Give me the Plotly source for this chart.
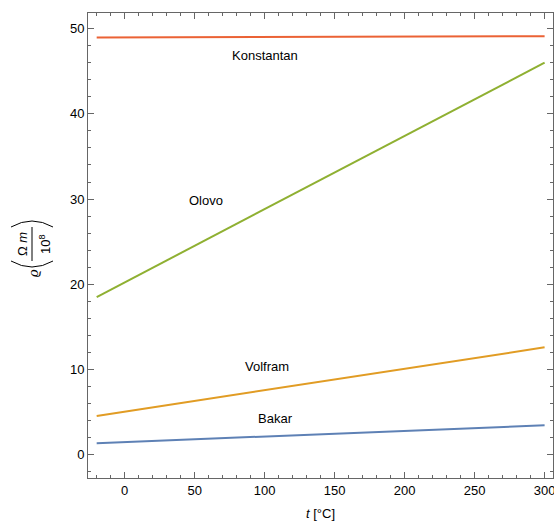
import plotly.graph_objects as go

# Data (resistivity in 1e-8 Ohm m vs temperature in °C)
t_vals = [-20, 300]
konstantan = [48.95, 49.1]
olovo = [18.5, 46.0]
volfram = [4.55, 12.6]
bakar = [1.35, 3.46]

series_names = ["Konstantan", "Olovo", "Volfram", "Bakar"]
series_vals = [konstantan, olovo, volfram, bakar]
series_colors = ["#EB6235", "#8FB032", "#E19C24", "#5E81B5"]

label_x = [100, 58, 102, 108]
label_y = [46.9, 29.8, 10.3, 4.2]

x_ticks = [0, 50, 100, 150, 200, 250, 300]
y_ticks = [0, 10, 20, 30, 40, 50]

W, H = 554, 523
ML, MR, MT, MB = 88, 1, 13, 45
PW = W - ML - MR
PH = H - MT - MB


def px(x):
    return (x - ML) / PW


def py(y):
    return (H - MB - y) / PH


fig = go.Figure()
for name, vals, col in zip(series_names, series_vals, series_colors):
    fig.add_trace(go.Scatter(x=t_vals, y=vals, mode="lines", name=name,
                             line=dict(color=col, width=2), showlegend=False))

font = dict(family="Liberation Sans, Arial, sans-serif", size=13, color="black")

for name, lx, ly in zip(series_names, label_x, label_y):
    fig.add_annotation(x=lx, y=ly, xref="x", yref="y", text=name, showarrow=False,
                       xanchor="center", yanchor="middle", font=font)

frame = "#666666"
axis_common = dict(showline=True, linecolor=frame, linewidth=1, mirror="ticks",
                   ticks="inside", tickcolor=frame, ticklen=6, tickwidth=1,
                   showgrid=False, zeroline=False, tickfont=font, automargin=False,
                   ticklabeloverflow="allow")

fig.update_xaxes(range=[-26.2, 306], tickvals=x_ticks,
                 minor=dict(dtick=10, ticks="inside", ticklen=3, tickcolor=frame, showgrid=False),
                 **axis_common)
fig.update_yaxes(range=[-2.73, 51.83], tickvals=y_ticks,
                 minor=dict(dtick=2, ticks="inside", ticklen=3, tickcolor=frame, showgrid=False),
                 **axis_common)

c = dict(xref="paper", yref="paper", showarrow=False, xanchor="center", yanchor="middle")

# x axis title
fig.add_annotation(x=px(320.5), y=py(513), text="<i>t</i> [°C]", font=font, **c)

# y axis title: varrho (Ω m / 10^8), rotated
fig.add_annotation(x=px(33), y=py(273), text="<i>ϱ</i>", textangle=-90,
                   font=dict(family="Liberation Serif, serif", size=15, color="black"), **c)
fig.add_annotation(x=px(22), y=py(244), text="Ω <i>m</i>", textangle=-90, font=font, **c)
fig.add_annotation(x=px(45), y=py(244), text="10<sup>8</sup>", textangle=-90, font=font, **c)
# fraction bar
fig.add_shape(type="line", xref="paper", yref="paper",
              x0=px(32), x1=px(32), y0=py(227), y1=py(261),
              line=dict(color="black", width=1))
# parentheses
fig.add_shape(type="path", xref="paper", yref="paper",
              path=f"M {px(11)},{py(227)} Q {px(32)},{py(215)} {px(53)},{py(227)}",
              line=dict(color="black", width=1))
fig.add_shape(type="path", xref="paper", yref="paper",
              path=f"M {px(11)},{py(261)} Q {px(32)},{py(273)} {px(53)},{py(261)}",
              line=dict(color="black", width=1))

fig.update_layout(width=W, height=H, margin=dict(l=ML, r=MR, t=MT, b=MB),
                  plot_bgcolor="white", paper_bgcolor="white", font=font)

fig.write_html("out.html", config={"displayModeBar": False},
               post_script="document.body.style.margin='0';document.body.style.overflow='hidden';")
